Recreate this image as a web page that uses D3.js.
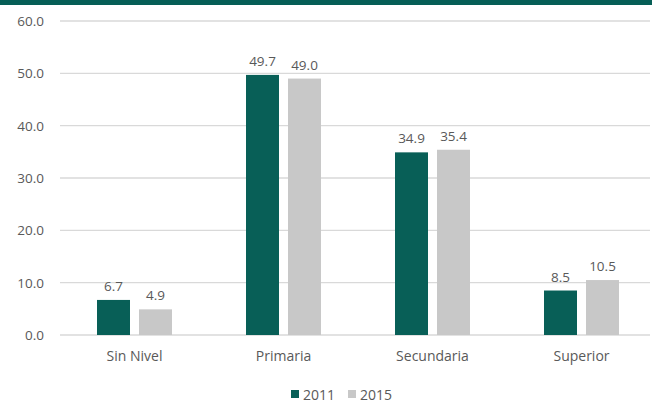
<!DOCTYPE html>
<head>
  <meta charset="utf-8">
  <script src="https://d3js.org/d3.v7.min.js"></script>
  <style>
    body { margin:0; background:#fff; }
    text { font-family: "Open Sans", sans-serif; fill:#595959; }
  </style>
</head>
<body>
<script>
  // data
  var categories = ["Sin Nivel", "Primaria", "Secundaria", "Superior"];
  var series = ["2011", "2015"];
  var values2011 = [6.7, 49.7, 34.9, 8.5];
  var values2015 = [4.9, 49.0, 35.4, 10.5];
  var yTicks = [0, 10, 20, 30, 40, 50, 60];
  var colors = ["#085f57", "#c8c8c8"];

  var W = 652, H = 402;
  var svg = d3.select("body").append("svg")
      .attr("width", W)
      .attr("height", H);

  // top band
  svg.append("rect")
      .attr("x", 0).attr("y", 0)
      .attr("width", W).attr("height", 5)
      .attr("fill", "#065e56");

  var x = d3.scaleBand()
      .domain(categories)
      .range([60, 656]);

  var y = d3.scaleLinear()
      .domain([0, 60])
      .range([335, 21]);

  // gridlines
  svg.selectAll(".grid").data(yTicks).enter()
    .append("line")
      .attr("x1", 60).attr("x2", 650)
      .attr("y1", function(d) { return y(d); })
      .attr("y2", function(d) { return y(d); })
      .attr("stroke", "#d9d9d9")
      .attr("stroke-width", 1.3);

  svg.selectAll(".ytick").data(yTicks).enter()
    .append("text")
      .attr("x", 44)
      .attr("y", function(d) { return y(d) + 5; })
      .attr("text-anchor", "end")
      .style("font-size", "13.5px")
      .text(function(d) { return d3.format(".1f")(d); });

  var barW = 33, gap = 9;
  var rows = [];
  categories.forEach(function(c, i) {
    rows.push({cat: c, s: 0, v: values2011[i]});
    rows.push({cat: c, s: 1, v: values2015[i]});
  });

  function bx(d) {
    var c = x(d.cat) + x.bandwidth() / 2;
    return d.s === 0 ? c - gap / 2 - barW : c + gap / 2;
  }

  svg.selectAll(".bar").data(rows).enter()
    .append("rect")
      .attr("x", bx)
      .attr("y", function(d) { return y(d.v); })
      .attr("width", barW)
      .attr("height", function(d) { return y(0) - y(d.v); })
      .attr("fill", function(d) { return colors[d.s]; });

  svg.selectAll(".lbl").data(rows).enter()
    .append("text")
      .attr("x", function(d) { return bx(d) + barW / 2; })
      .attr("y", function(d) { return y(d.v) - 9; })
      .attr("text-anchor", "middle")
      .style("font-size", "13.5px")
      .text(function(d) { return d3.format(".1f")(d.v); });

  svg.selectAll(".xlab").data(categories).enter()
    .append("text")
      .attr("x", function(d) { return x(d) + x.bandwidth() / 2; })
      .attr("y", 361)
      .attr("text-anchor", "middle")
      .style("font-size", "14px")
      .text(function(d) { return d; });

  // legend
  var lg = svg.append("g").attr("transform", "translate(291,390)");
  series.forEach(function(s, i) {
    lg.append("rect")
      .attr("x", i * 57).attr("y", 0)
      .attr("width", 8).attr("height", 8)
      .attr("fill", colors[i]);
    lg.append("text")
      .attr("x", i * 57 + 12).attr("y", 9.5)
      .style("font-size", "14px")
      .text(s);
  });
</script>
</body>
